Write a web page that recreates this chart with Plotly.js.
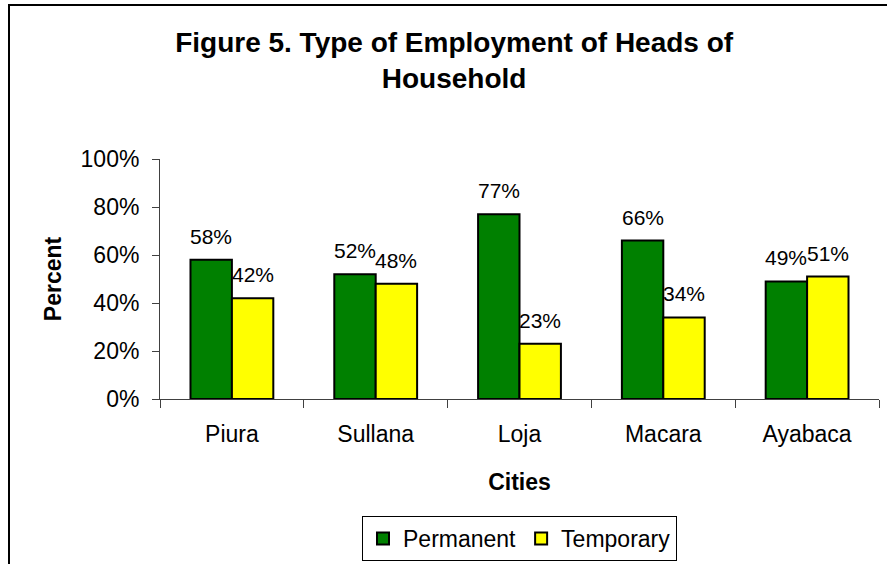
<!DOCTYPE html>
<html>
<head>
<meta charset="utf-8">
<script src="https://cdn.plot.ly/plotly-3.0.1.min.js"></script>
<style>
  html, body { margin: 0; padding: 0; background: #ffffff; }
  #chart { width: 887px; height: 564px; }
</style>
</head>
<body>
<div id="chart"></div>
<script>
const cities = ["Piura", "Sullana", "Loja", "Macara", "Ayabaca"];
const permanent = [0.58, 0.52, 0.77, 0.66, 0.49];
const temporary = [0.42, 0.48, 0.23, 0.34, 0.51];
const seriesNames = ["Permanent", "Temporary"];
const yTicks = [0, 0.2, 0.4, 0.6, 0.8, 1.0];

const FONT = "Liberation Sans, Arial, sans-serif";
const BAR_SHIFT = 20.7;

const traces = [
  {
    type: "bar", name: seriesNames[0], x: cities, y: permanent,
    marker: { color: "#008000", line: { color: "#000000", width: 2 } },
    hoverinfo: "skip"
  },
  {
    type: "bar", name: seriesNames[1], x: cities, y: temporary,
    marker: { color: "#FFFF00", line: { color: "#000000", width: 2 } },
    hoverinfo: "skip"
  }
];

const annotations = [];
[permanent, temporary].forEach((vals, si) => {
  vals.forEach((v, i) => {
    annotations.push({
      x: cities[i], y: v, xref: "x", yref: "y",
      text: Math.round(v * 100) + "%",
      showarrow: false, xanchor: "center", yanchor: "bottom",
      xshift: si === 0 ? -BAR_SHIFT : BAR_SHIFT, yshift: 10,
      font: { family: FONT, size: 21, color: "#000000" }
    });
  });
});

const layout = {
  width: 887, height: 564,
  margin: { l: 160, r: 8, t: 159, b: 165, autoexpand: false },
  paper_bgcolor: "#ffffff", plot_bgcolor: "#ffffff",
  title: {
    text: "<b>Figure 5. Type of Employment of Heads of<br>Household</b>",
    font: { family: FONT, size: 28, color: "#000000" },
    x: 0.512, xref: "container", xanchor: "center",
    y: 1 - 52 / 564, yref: "container", yanchor: "top"
  },
  barmode: "group", bargap: 0.424, bargroupgap: 0,
  showlegend: true,
  legend: {
    orientation: "h", x: 0.5, xanchor: "center", y: -(561 - 399) / 240, yanchor: "bottom",
    bordercolor: "#000000", borderwidth: 1,
    font: { family: FONT, size: 23, color: "#000000" },
    itemclick: false, itemdoubleclick: false
  },
  xaxis: {
    type: "category", range: [-0.5, 4.5], automargin: false,
    showline: true, linecolor: "#404040", linewidth: 1,
    ticks: "outside", tickson: "boundaries", ticklen: 8, tickcolor: "#404040",
    ticklabelstandoff: 14,
    tickfont: { family: FONT, size: 23, color: "#000000" },
    showgrid: false, zeroline: false,
    title: { text: "<b>Cities</b>", font: { family: FONT, size: 23, color: "#000000" }, standoff: 28 }
  },
  yaxis: {
    range: [0, 1], tickvals: yTicks, tickformat: ".0%", automargin: false,
    showline: true, linecolor: "#404040", linewidth: 1,
    ticks: "outside", ticklen: 7, tickcolor: "#404040",
    ticklabelstandoff: 8,
    tickfont: { family: FONT, size: 23, color: "#000000" },
    showgrid: false, zeroline: false,
    title: { text: "<b>Percent</b>", font: { family: FONT, size: 23, color: "#000000" }, standoff: 12 }
  },
  annotations: annotations,
  shapes: [
    {
      type: "rect", xref: "paper", yref: "paper",
      x0: (9 - 160) / 719, x1: (905 - 160) / 719,
      y0: -(600 - 399) / 240, y1: (399 - 5) / 240,
      line: { color: "#000000", width: 2 }, fillcolor: "rgba(0,0,0,0)", layer: "below"
    }
  ]
};

Plotly.newPlot("chart", traces, layout, { staticPlot: true, displayModeBar: false });
</script>
</body>
</html>
